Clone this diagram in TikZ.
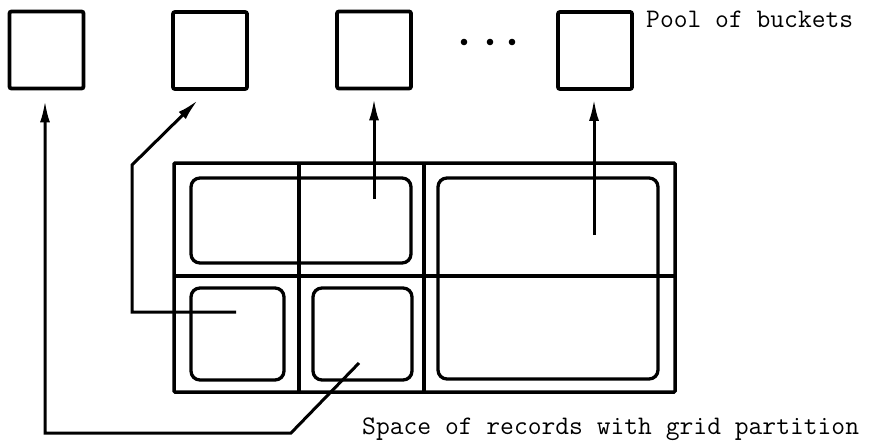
\documentclass[tikz,border=0pt]{standalone}
\usepackage{fontspec}
\usetikzlibrary{arrows.meta}
\begin{document}
\begin{tikzpicture}[x=1pt,y=-1pt,
  bucket/.style={draw,line width=3.8pt,rounded corners=2pt,minimum width=74pt,minimum height=77pt,inner sep=0pt},
  region/.style={draw,line width=3.3pt,rounded corners=9pt,inner sep=0pt},
  gridline/.style={line width=3.5pt},
  link/.style={line width=3pt,-{Latex[length=22pt,width=10pt]}},
  label/.style={inner sep=0pt,anchor=base west,font=\ttfamily\fontsize{26.8}{30}\selectfont}]
\useasboundingbox (0,0) rectangle (875,441);

% pool of buckets
\node[bucket] (b1) at (46.5,50) {};
\node[bucket] (b2) at (210,50.5) {};
\node[bucket] (b3) at (374,50) {};
\node[bucket] (b4) at (595,50.5) {};
\foreach \x [count=\i] in {464,490,512}
  \fill (\x,42) circle (3.3pt) coordinate (dot\i);
\node[label] (pool) at (646,28) {Pool of buckets};

% record space with its grid partition
\draw[gridline,rounded corners=1pt] (174,163) rectangle (675,392);
\draw[gridline] (174,276) -- (675,276);
\draw[gridline] (299,163) -- (299,392);
\draw[gridline] (424,163) -- (424,392);

% bucket regions
\node[region,minimum width=220pt,minimum height=85pt] (r1) at (301,220.5) {};
\node[region,minimum width=93pt,minimum height=92pt] (r2) at (237.5,334) {};
\node[region,minimum width=99pt,minimum height=92pt] (r3) at (362.5,334) {};
\node[region,minimum width=220pt,minimum height=201pt] (r4) at (548,278.5) {};

\node[label] (space) at (362,434) {Space of records with grid partition};

% pointers from regions to buckets
\coordinate (p1) at (374,199);
\coordinate (p4) at (594,235);
\coordinate (p2) at (236,312);
\coordinate (p3) at (359,363);
\coordinate (k2) at (132,165);
\coordinate (t2) at (198,100);
\coordinate (k3) at (291,433);
\coordinate (k4) at (45,433);

\draw[link,shorten >=8pt] (p1) -- (b3.south -| p1);
\draw[link,shorten >=8pt] (p4) -- (b4.south -| p4);
\draw[link] (p2) -- (p2 -| k2) -- (k2) -- (t2);
\draw[link,shorten >=10pt] (p3) -- (k3) -- (k4) -- (k4 |- b1.south);
\end{tikzpicture}
\end{document}
